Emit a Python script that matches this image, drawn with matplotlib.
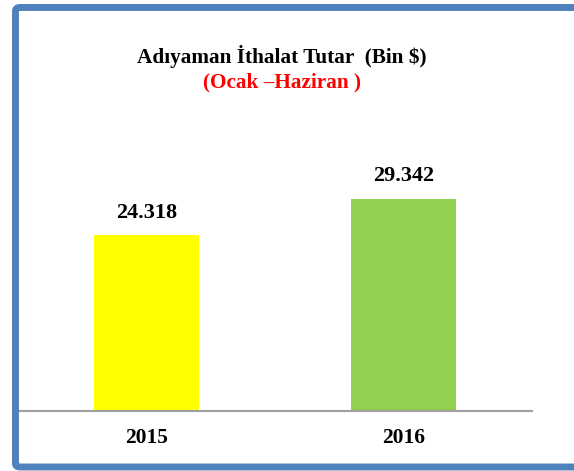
import matplotlib
matplotlib.use("Agg")
import matplotlib.pyplot as plt
from matplotlib.patches import FancyBboxPatch

categories = ["2015", "2016"]
values = [24318, 29342]
value_labels = ["24.318", "29.342"]
bar_colors = ["#FFFF00", "#92D050"]

plt.rcParams['font.family'] = ['Liberation Serif', 'DejaVu Serif']

fig = plt.figure(figsize=(5.74, 4.71), dpi=100)
W, H = 574, 471

# outer rounded frame (right edge runs past the canvas)
frame = FancyBboxPatch((15.5 / W, 1 - 467 / H), (590 - 15.5) / W, (467 - 7.5) / H,
                       boxstyle="round,pad=0,rounding_size=0.008",
                       transform=fig.transFigure, facecolor="none",
                       edgecolor="#4F81BD", linewidth=5, zorder=0)
fig.patches.append(frame)

ax = fig.add_axes([18 / W, 1 - 411 / H, (532 - 18) / W, (411 - 100) / H])
x = range(len(categories))
ax.bar(x, values, width=0.405, color=bar_colors, zorder=2)
ax.set_xlim(-0.5, 1.5)
ax.set_ylim(0, 43000)
for s in ["top", "right", "left"]:
    ax.spines[s].set_visible(False)
ax.spines["bottom"].set_color("#A0A0A0")
ax.spines["bottom"].set_linewidth(1.5)
ax.set_yticks([])
ax.set_xticks(list(x))
ax.set_xticklabels(categories, fontsize=15.5, fontweight="bold")
ax.tick_params(axis="x", length=0, pad=12)

for xi, v, lab in zip(x, values, value_labels):
    ax.annotate(lab, (xi, v), xytext=(0, 9), textcoords="offset points",
                ha="center", va="bottom", fontsize=16, fontweight="bold")

fig.text(282 / W, 1 - 63 / H, "Adıyaman İthalat Tutar  (Bin $)", ha="center",
         va="baseline", fontsize=15.3, fontweight="bold", color="black")
fig.text(282 / W, 1 - 87 / H, "(Ocak –Haziran )", ha="center",
         va="baseline", fontsize=15.3, fontweight="bold", color="#FF0000")

fig.savefig("out.png", dpi=100)
